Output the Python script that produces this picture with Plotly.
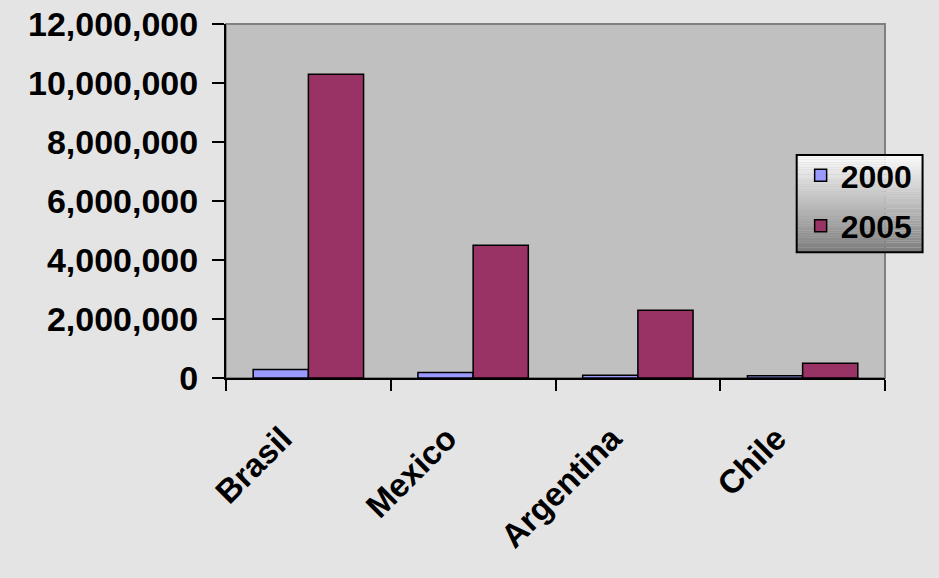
import plotly.graph_objects as go

categories = ["Brasil", "Mexico", "Argentina", "Chile"]
series_names = ["2000", "2005"]
values_2000 = [290000, 190000, 90000, 80000]
values_2005 = [10300000, 4500000, 2300000, 500000]
y_ticks = [0, 2000000, 4000000, 6000000, 8000000, 10000000, 12000000]

colors = ["#9999FF", "#993366"]
font_family = "Liberation Sans, Arial, sans-serif"

fig = go.Figure()
for name, vals, col in zip(series_names, [values_2000, values_2005], colors):
    fig.add_trace(go.Bar(
        x=categories, y=vals, name=name, legendgroup=name,
        marker=dict(color=col, line=dict(color="black", width=1.5)),
    ))

# legend box (paper coords), gradient background drawn as stripes
lx0, lx1, ly0, ly1 = 0.866, 1.057, 0.355, 0.630
n = 40
for i in range(n):
    t = i / (n - 1)
    g = int(round(252 - t * (252 - 125)))
    yy1 = ly1 - (ly1 - ly0) * i / n
    yy0 = ly1 - (ly1 - ly0) * (i + 1) / n
    fig.add_shape(type="rect", xref="paper", yref="paper",
                  x0=lx0, x1=lx1, y0=yy0, y1=yy1,
                  fillcolor=f"rgb({g},{g},{g})", line=dict(width=0), layer="above")
fig.add_shape(type="rect", xref="paper", yref="paper", x0=lx0, x1=lx1, y0=ly0, y1=ly1,
              line=dict(color="black", width=2), layer="above")

fig.update_layout(
    width=939, height=578,
    margin=dict(l=226, r=54, t=24, b=200, autoexpand=False),
    paper_bgcolor="#E4E4E4",
    plot_bgcolor="#C0C0C0",
    barmode="group",
    bargap=0.33, bargroupgap=0,
    font=dict(family=font_family, size=33, color="black", weight="bold"),
    showlegend=True,
    legend=dict(
        x=0.872, y=0.650, xanchor="left", yanchor="top",
        bgcolor="rgba(0,0,0,0)", borderwidth=0,
        font=dict(family=font_family, size=32, color="black", weight="bold"),
        traceorder="grouped", tracegroupgap=6,
    ),
)
fig.update_xaxes(
    type="category", tickangle=-45, tickson="boundaries",
    ticks="outside", ticklen=11, tickwidth=2, tickcolor="black",
    showline=True, linecolor="black", linewidth=2,
    mirror=False, showgrid=False, automargin=False,
    ticklabelshift=-26, ticklabelstandoff=26,
    tickfont=dict(family=font_family, size=33, color="black", weight="bold"),
)
fig.update_yaxes(
    range=[0, 12000000], tickvals=y_ticks, tickformat=",d",
    ticks="outside", ticklen=12, tickwidth=2, tickcolor="black",
    showline=True, linecolor="black", linewidth=2,
    showgrid=False, zeroline=False, automargin=False,
    ticklabelstandoff=7,
    tickfont=dict(family=font_family, size=34, color="black", weight="bold"),
)
# plot-area border (top/right in gray)
fig.add_shape(type="rect", xref="paper", yref="paper", x0=0, x1=1, y0=0, y1=1,
              line=dict(color="#808080", width=2), layer="below")

fig.write_html("out.html")
